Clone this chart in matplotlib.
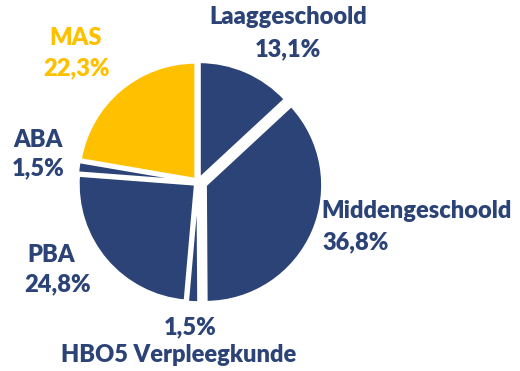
import matplotlib.pyplot as plt

categories = ["Laaggeschoold", "Middengeschoold", "HBO5 Verpleegkunde", "PBA", "ABA", "MAS"]
shares = [13.1, 36.8, 1.5, 24.8, 1.5, 22.3]
value_labels = ["13,1%", "36,8%", "1,5%", "24,8%", "1,5%", "22,3%"]

NAVY = "#2B4376"
GOLD = "#FFC000"
colors = [NAVY, NAVY, NAVY, NAVY, NAVY, GOLD]
explode = [0.03, 0.07, 0.03, 0.03, 0.03, 0.03]

W, H = 520, 371
CX, CY, R = 198, 182, 117

fig = plt.figure(figsize=(W / 100, H / 100), dpi=100)
ax = fig.add_axes([0, 0, 1, 1])

ax.pie(shares, colors=colors, startangle=90, counterclock=False,
       explode=explode, radius=1.0,
       wedgeprops=dict(edgecolor="white", linewidth=2))

ax.set_xlim(-CX / R, (W - CX) / R)
ax.set_ylim(-(H - CY) / R, CY / R)
ax.set_aspect("equal")
ax.axis("off")

plt.rcParams["font.family"] = ["Lato", "DejaVu Sans"]
font = dict(fontsize=17, fontweight="heavy")


def put(px, py, s, color, ha="center"):
    fig.text(px / W, 1 - py / H, s, color=color, ha=ha, va="center", **font)


# label positions in pixel coordinates: (name, value)
put(288, 17, categories[0], NAVY)
put(288, 49, value_labels[0], NAVY)

put(321, 211, categories[1], NAVY, ha="left")
put(322, 242, value_labels[1], NAVY, ha="left")

put(190, 327, value_labels[2], NAVY)
put(179, 355, categories[2], NAVY)

put(51, 255, categories[3], NAVY)
put(58, 284, value_labels[3], NAVY)

put(38, 140, categories[4], NAVY)
put(38, 168, value_labels[4], NAVY)

put(76, 38, categories[5], GOLD)
put(76, 68, value_labels[5], GOLD)

fig.savefig("out.png", dpi=100, facecolor="white")
